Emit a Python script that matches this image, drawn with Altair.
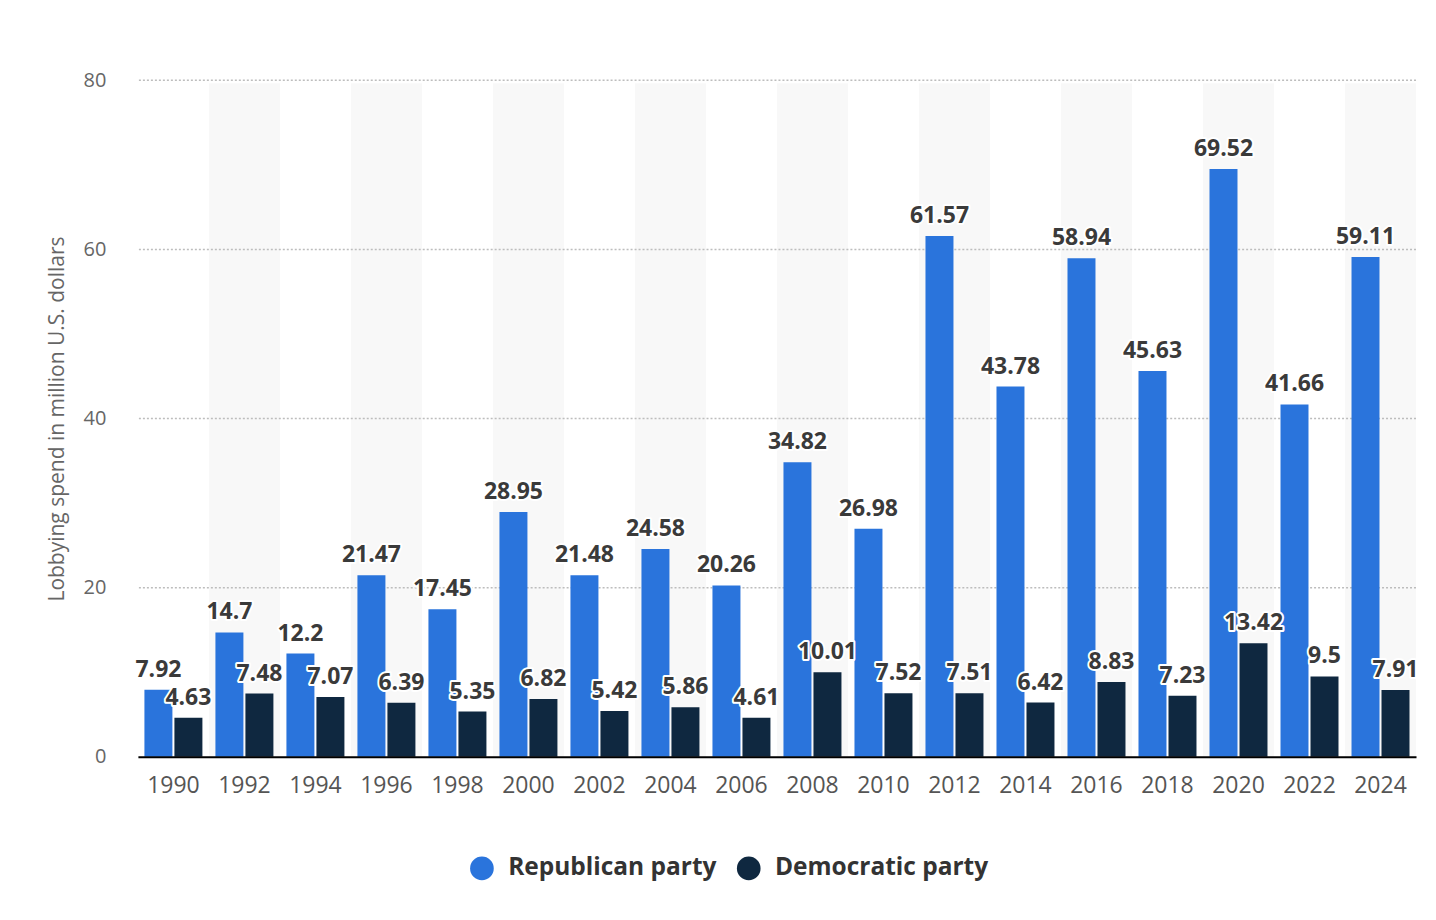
import altair as alt
import pandas as pd

years = ["1990","1992","1994","1996","1998","2000","2002","2004","2006","2008",
         "2010","2012","2014","2016","2018","2020","2022","2024"]
republican = [7.92,14.7,12.2,21.47,17.45,28.95,21.48,24.58,20.26,34.82,
              26.98,61.57,43.78,58.94,45.63,69.52,41.66,59.11]
democratic = [4.63,7.48,7.07,6.39,5.35,6.82,5.42,5.86,4.61,10.01,
              7.52,7.51,6.42,8.83,7.23,13.42,9.5,7.91]
parties = ["Republican party", "Democratic party"]
colors = ["#2a74dc", "#0f2840"]
grid_values = [20, 40, 60, 80]
tick_values = [0, 20, 40, 60, 80]

rows = []
for i, y in enumerate(years):
    rows.append({"year": y, "party": parties[0], "value": republican[i]})
    rows.append({"year": y, "party": parties[1], "value": democratic[i]})
df = pd.DataFrame(rows)

bg = pd.DataFrame({"year": years[1::2]})
grid = pd.DataFrame({"value": grid_values})

FONT = "Open Sans"
W, H = 1279, 677

xscale = alt.Scale(domain=years, paddingInner=0, paddingOuter=0)
xoff = alt.Scale(domain=parties, paddingInner=0.067, paddingOuter=0.217)
yscale = alt.Scale(domain=[0, 80], nice=False)

xaxis = alt.Axis(title=None, labelAngle=0, labelFont=FONT, labelFontSize=23,
                 labelColor="#555555", labelPadding=18, ticks=False,
                 domainColor="#000000", domainWidth=2, grid=False)
yaxis = alt.Axis(title="Lobbying spend in million U.S. dollars", values=tick_values,
                 grid=False, domain=False, ticks=False, labelFont=FONT,
                 labelFontSize=20, labelColor="#666666", labelPadding=32,
                 titleFont=FONT, titleFontSize=21, titleColor="#666666",
                 titleFontWeight="normal", titlePadding=16)

X = alt.X("year:N", scale=xscale, sort=years, axis=xaxis)
Y = alt.Y("value:Q", scale=yscale, axis=yaxis)
XO = alt.XOffset("party:N", scale=xoff, sort=parties)

bands = alt.Chart(bg).mark_rect(color="#f8f8f8").encode(
    x=X, y=alt.value(3), y2=alt.value(H),
)

rules = alt.Chart(grid).mark_rule(color="#bdbdbd", strokeDash=[2, 2], strokeWidth=1.5).encode(
    y=Y
)

bars = alt.Chart(df).mark_bar().encode(
    x=X, xOffset=XO, y=Y,
    color=alt.Color("party:N", scale=alt.Scale(domain=parties, range=colors),
                    legend=alt.Legend(title=None, orient="none", legendX=332, legendY=776,
                                      direction="horizontal", symbolType="circle",
                                      symbolSize=560, symbolStrokeWidth=0, labelFont=FONT,
                                      labelFontSize=24.5, labelFontWeight="bold",
                                      labelColor="#333333", labelOffset=14,
                                      labelLimit=400, columnPadding=19)),
)

LBL = dict(font=FONT, fontSize=23, fontWeight="bold", dy=-13, baseline="alphabetic")

halo = alt.Chart(df).mark_text(stroke="white", strokeWidth=4, fill="white",
                               strokeJoin="round", **LBL).encode(
    x=X, xOffset=XO, y=Y, text=alt.Text("value:Q"),
)

labels = alt.Chart(df).mark_text(color="#3a3a3a", **LBL).encode(
    x=X, xOffset=XO, y=Y, text=alt.Text("value:Q"),
)

chart = alt.layer(bands, rules, bars, halo, labels).properties(
    width=W, height=H, background="white",
    autosize=alt.AutoSizeParams(type="none"),
    padding={"left": 130, "top": 72, "right": 12, "bottom": 138},
).configure_view(stroke=None, strokeWidth=0)

chart.save("out.html", embed_options={"renderer": "svg", "actions": False})
